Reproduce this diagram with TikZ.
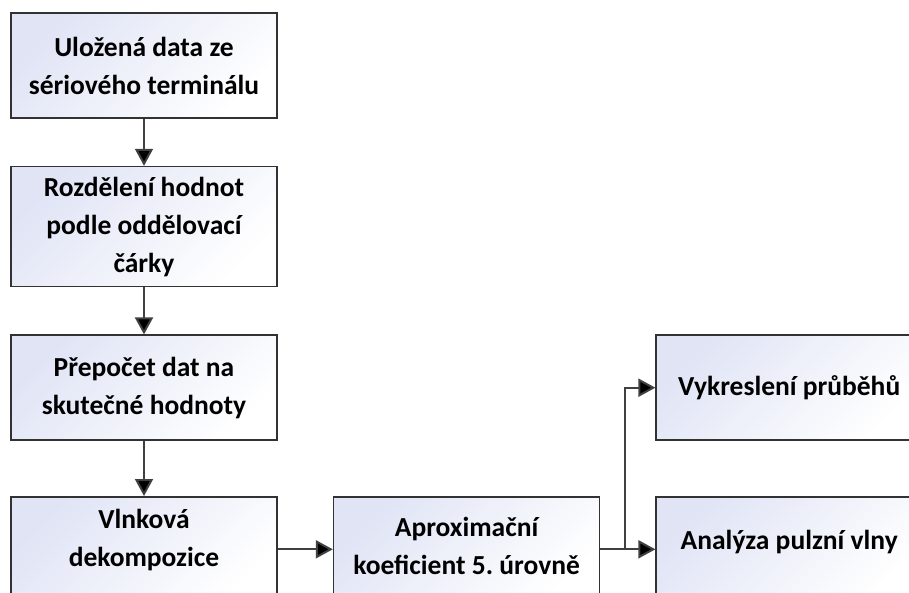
\documentclass[tikz,border=0pt]{standalone}
\usepackage{fontspec}
\setmainfont{Carlito}
\usetikzlibrary{positioning,arrows.meta,calc}
\frenchspacing

\definecolor{boxtint}{RGB}{224,228,245}
\definecolor{edge}{RGB}{50,50,50}

\begin{document}
\begin{tikzpicture}[
stepbox/.style={
    draw=edge,
    line width=1.6pt,
    top color=boxtint,
    bottom color=white,
    shading angle=45,
    minimum width=266pt,
    minimum height=105pt,
    align=center,
    text=black,
    font=\fontsize{27.5}{38}\selectfont\bfseries
},
flow/.style={
    draw=black!75,
    line width=2pt,
    -{Triangle[length=17pt,width=18pt,fill=black]}
},
>=latex
]

\useasboundingbox (0,0) rectangle (909pt,-592pt);
\clip (0,0) rectangle (909pt,-592pt);

% left column
\node[stepbox] (stored) at (144pt,-65.5pt) {Uložená data ze\\sériového terminálu};
\node[stepbox, minimum height=120pt, below=47pt of stored] (split) {Rozdělení hodnot\\podle oddělovací\\čárky};
\node[stepbox, below=47pt of split] (convert) {Přepočet dat na\\skutečné hodnoty};
\node[stepbox, text depth=22pt, below=55pt of convert] (wavelet) {Vlnková\\dekompozice};

% bottom row and outputs
\node[stepbox, text depth=6pt, right=55pt of wavelet] (approx) {Aproximační\\koeficient 5. úrovně};
\node[stepbox, text depth=18pt, right=55pt of approx] (pulse) {Analýza pulzní vlny};
\node[stepbox, above=55pt of pulse] (plot) {Vykreslení průběhů};

\coordinate (fork) at ($(approx.east)!0.45!(pulse.west)$);

\draw[flow] (stored) -- (split);
\draw[flow] (split) -- (convert);
\draw[flow] (convert) -- (wavelet);
\draw[flow] (wavelet) -- (approx);
\draw[flow] (approx.east) -- (pulse.west);
\draw[flow] (fork) |- (plot.west);
\end{tikzpicture}
\end{document}
